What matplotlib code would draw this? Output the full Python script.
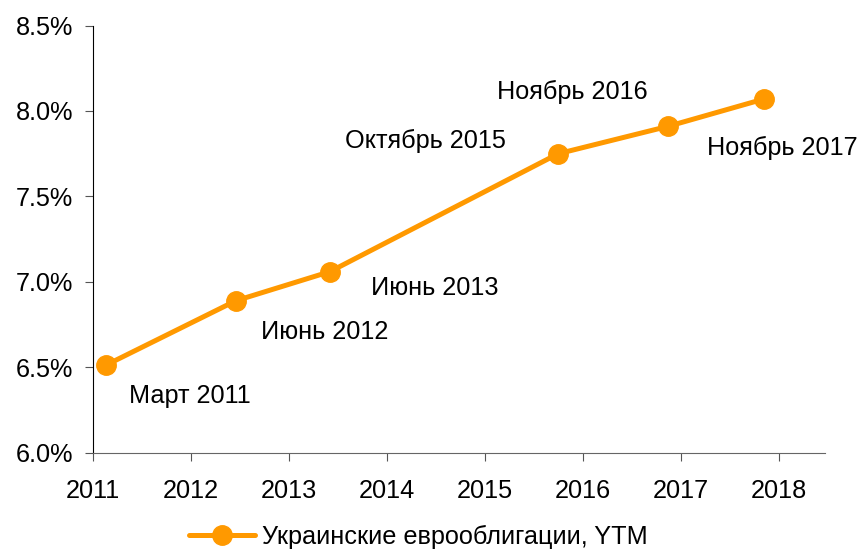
import matplotlib
matplotlib.use("Agg")
import matplotlib.pyplot as plt
from matplotlib.ticker import FuncFormatter

plt.rcParams['font.family'] = ['Liberation Sans', 'DejaVu Sans']

dates = [2011.14, 2012.46, 2013.42, 2015.75, 2016.87, 2017.85]
ytm = [6.515, 6.89, 7.06, 7.75, 7.91, 8.07]
labels = ["Март 2011", "Июнь 2012", "Июнь 2013", "Октябрь 2015", "Ноябрь 2016", "Ноябрь 2017"]
years = [2011, 2012, 2013, 2014, 2015, 2016, 2017, 2018]
yticks = [6.0, 6.5, 7.0, 7.5, 8.0, 8.5]
series_name = "Украинские еврооблигации, YTM"

color = "#FF9900"
fs = 18.2
fig = plt.figure(figsize=(8.59, 5.55), dpi=100)
ax = fig.add_axes([0.108, 0.184, 0.852, 0.770])

ax.plot(dates, ytm, color=color, lw=3.6, marker='o', markersize=14,
        label=series_name, solid_capstyle='round')

# label offsets in pixels (dx, dy)
offs = [(83, -31), (89, -31), (105, -16), (-133, 13), (-96, 34), (18, -49)]
for x, y, t, (dx, dy) in zip(dates, ytm, labels, offs):
    ax.annotate(t, (x, y), xytext=(dx * 0.72, dy * 0.72), textcoords='offset points',
                ha='center', va='center', fontsize=fs, color='black')

ax.set_xlim(2011, 2018.47)
ax.set_ylim(6.0, 8.5)
ax.set_xticks(years)
ax.set_yticks(yticks)
ax.yaxis.set_major_formatter(FuncFormatter(lambda v, p: f"{v:.1f}%"))
ax.tick_params(axis='both', labelsize=fs, direction='out', length=6, colors='#555555', labelcolor='black')
ax.tick_params(axis='x', pad=13)
ax.tick_params(axis='y', pad=8)
for s in ['top', 'right']:
    ax.spines[s].set_visible(False)
ax.spines['left'].set_color('black')
ax.spines['bottom'].set_color('#666666')

fig.legend(loc='center', bbox_to_anchor=(0.487, 0.032), frameon=False, fontsize=fs,
           handlelength=2.6, handletextpad=0.3, borderpad=0.2)

fig.savefig("out.png", dpi=100)
